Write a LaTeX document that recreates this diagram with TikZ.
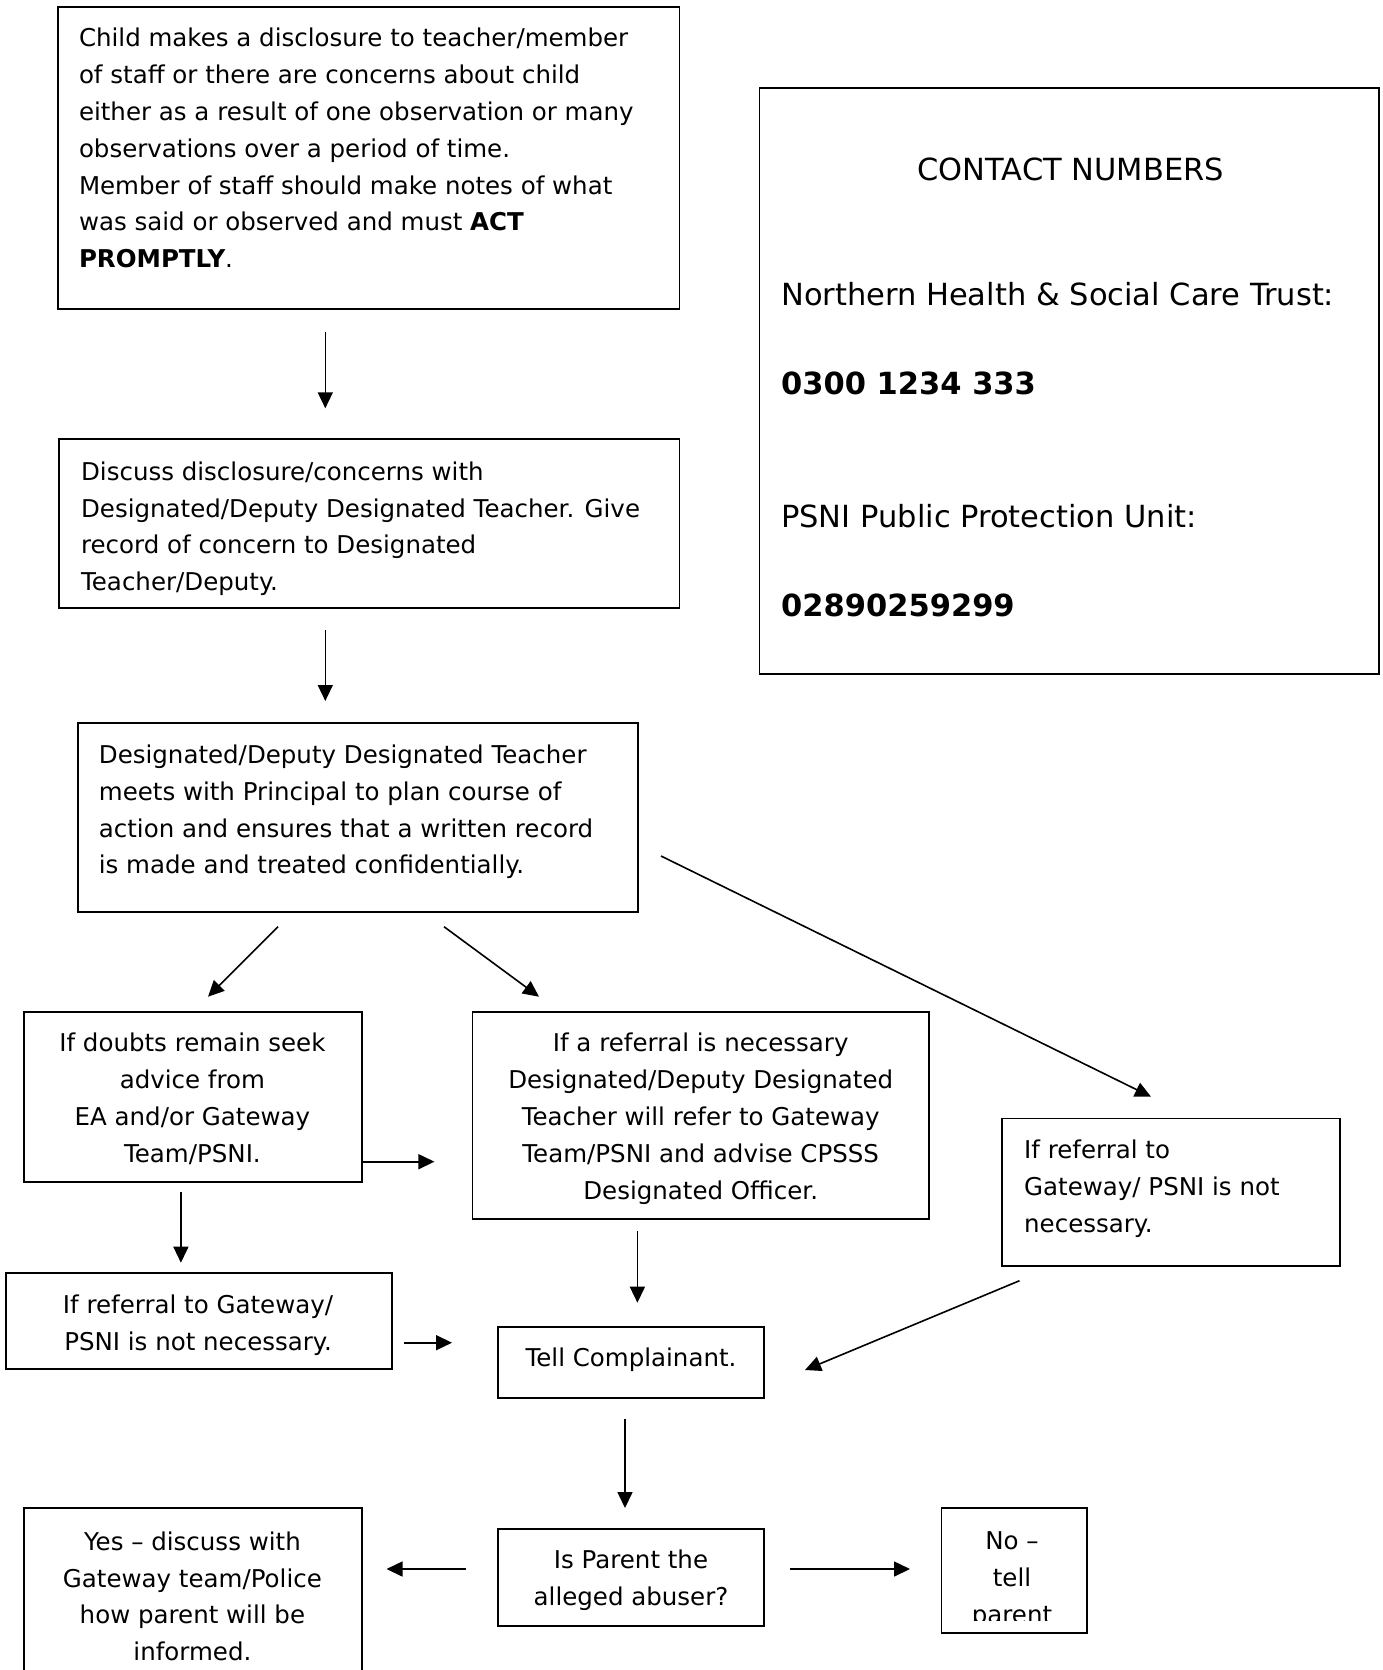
\documentclass[tikz,border=0pt]{standalone}
\usepackage{fontspec}
\setmainfont{DejaVu Sans}
\usetikzlibrary{arrows.meta,fit}
\begin{document}
\begin{tikzpicture}[x=1pt,y=-1pt,
  box/.style={draw=black,line width=1.8pt,rectangle,inner sep=0pt},
  txt/.style={inner sep=0pt,font=\fontsize{24.5}{36.8}\selectfont},
  ctxt/.style={inner sep=0pt,font=\fontsize{30.5}{36}\selectfont,anchor=base west},
  cbold/.style={ctxt,font=\fontsize{30.5}{36}\selectfont\bfseries},
  arr/.style={line width=1.6pt,-{Triangle[length=16pt,width=15pt]}}]
\useasboundingbox (0,0) rectangle (1383,1670);
\clip (0,0) rectangle (1383,1670);

% boxes
\node[box,fit={(58.3,7) (679.5,309.3)}] (b1) {};
\node[box,fit={(59.2,439) (679.5,607.7)}] (b2) {};
\node[box,fit={(77.6,723.3) (638,911.7)}] (b3) {};
\node[box,fit={(24,1011.7) (361.7,1181.7)}] (b4) {};
\node[box,fit={(472.5,1011.7) (929,1219)}] (b5) {};
\node[box,fit={(1002,1118.5) (1340,1266)}] (b6) {};
\node[box,fit={(6,1273) (392,1369)}] (b7) {};
\node[box,fit={(498,1326.7) (764,1398)}] (b8) {};
\node[box,fit={(498,1528.7) (764,1625.7)}] (b9) {};
\node[box,fit={(24,1508) (361.7,1720)}] (b10) {};
\node[box,fit={(941.5,1508) (1087,1632.7)}] (b11) {};
\node[box,fit={(759.4,88.3) (1379,674)}] (c) {};

% texts
\node[txt,anchor=north west,align=left] (t1) at (78.8,28.1) {Child makes a disclosure to teacher/member\\of staff or there are concerns about child\\either as a result of one observation or many\\observations over a period of time.\\Member of staff should make notes of what\\was said or observed and must \textbf{ACT}\\\textbf{PROMPTLY}.};
\node[txt,anchor=north west,align=left] (t2) at (80.9,461.4) {Discuss disclosure/concerns with\\Designated/Deputy Designated Teacher. Give\\record of concern to Designated\\Teacher/Deputy.};
\node[txt,anchor=north west,align=left] (t3) at (98.7,744.7) {Designated/Deputy Designated Teacher\\meets with Principal to plan course of\\action and ensures that a written record\\is made and treated confidentially.};
\node[txt,anchor=north,align=center] (t4) at (192.4,1033.1) {If doubts remain seek\\advice from\\EA and/or Gateway\\Team/PSNI.};
\node[txt,anchor=north,align=center] (t5) at (700.7,1033.1) {If a referral is necessary\\Designated/Deputy Designated\\Teacher will refer to Gateway\\Team/PSNI and advise CPSSS\\Designated Officer.};
\node[txt,anchor=north west,align=left] (t6) at (1024,1139.7) {If referral to\\Gateway/ PSNI is not\\necessary.};
\node[txt,anchor=north,align=center] (t7) at (198,1294.7) {If referral to Gateway/\\PSNI is not necessary.};
\node[txt,anchor=north] (t8) at (631,1348.1) {Tell Complainant.};
\node[txt,anchor=north,align=center] (t9) at (631,1549.7) {Is Parent the\\alleged abuser?};
\node[txt,anchor=north,align=center] (t10) at (192.4,1531.4) {Yes – discuss with\\Gateway team/Police\\how parent will be\\informed.};
\begin{scope}
\clip (941.5,1508) rectangle (1087,1620);
\node[txt,anchor=north,align=center] (t11) at (1012,1531.4) {No –\\tell\\parent};
\end{scope}

% contact texts
\node[ctxt,anchor=base] (c0) at (1070.8,180) {CONTACT NUMBERS};
\node[ctxt] (c1) at (781,305) {Northern Health \& Social Care Trust:};
\node[cbold] (c2) at (781,394) {0300 1234 333};
\node[ctxt] (c3) at (781,527.3) {PSNI Public Protection Unit:};
\node[cbold] (c4) at (781,616.7) {02890259299};

% arrow end points
\coordinate (p1s) at (325.3,331.7);  \coordinate (p1e) at (325.3,408.3);
\coordinate (p2s) at (325.3,630);    \coordinate (p2e) at (325.3,701);
\coordinate (p3s) at (278,926.7);    \coordinate (p3e) at (208,996.7);
\coordinate (p4s) at (444,926.7);    \coordinate (p4e) at (539,996.7);
\coordinate (p5s) at (661,856);      \coordinate (p5e) at (1151,1096.7);
\coordinate (p6s) at (361.7,1161.7); \coordinate (p6e) at (434.4,1161.7);
\coordinate (p7s) at (180.9,1191.7); \coordinate (p7e) at (180.9,1262.7);
\coordinate (p8s) at (404,1342.7);   \coordinate (p8e) at (452,1342.7);
\coordinate (p9s) at (637.4,1230.7); \coordinate (p9e) at (637.4,1302.7);
\coordinate (p10s) at (1019.5,1280.7); \coordinate (p10e) at (805,1370);
\coordinate (p11s) at (625,1419);    \coordinate (p11e) at (625,1508);
\coordinate (p12s) at (466,1569);    \coordinate (p12e) at (386.5,1569);
\coordinate (p13s) at (790,1569);    \coordinate (p13e) at (910,1569);

\foreach \i in {1,...,13} {\draw[arr] (p\i s) -- (p\i e);}
\end{tikzpicture}
\end{document}
